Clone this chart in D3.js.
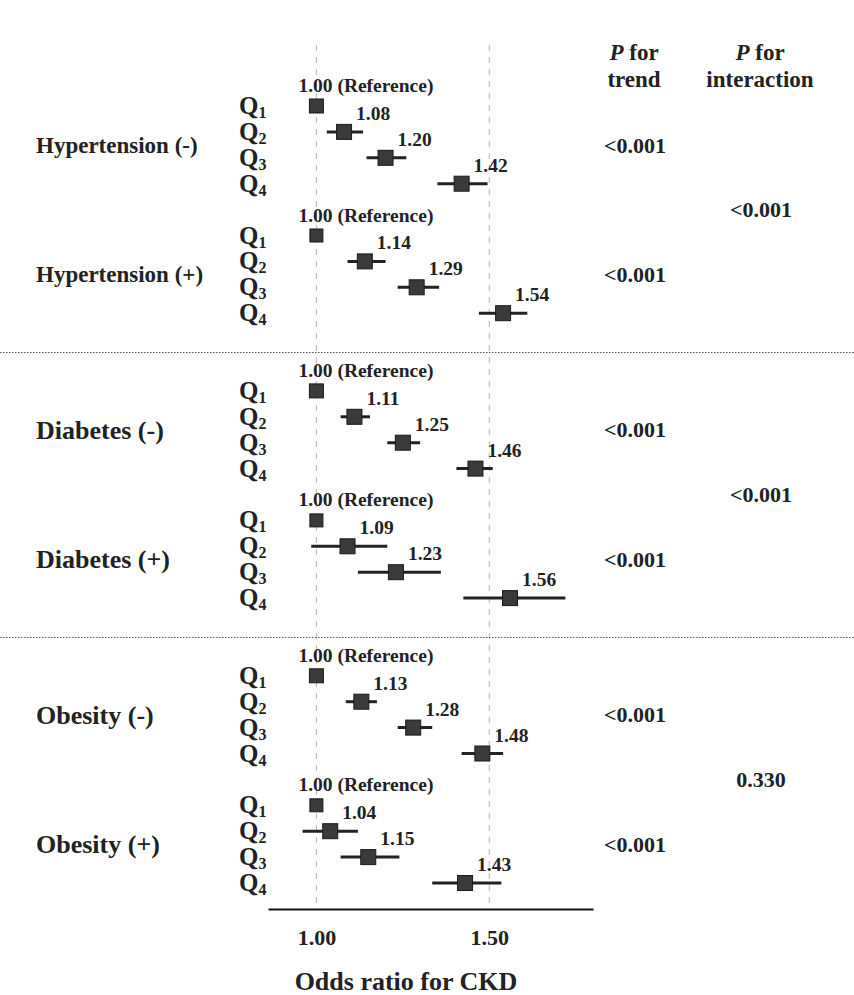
<!DOCTYPE html>
<html>
<head>
<meta charset="utf-8">
<script src="https://cdn.jsdelivr.net/npm/d3@7/dist/d3.min.js"></script>
<style>
  html, body { margin: 0; padding: 0; background: #fff; }
  svg text { font-family: "Liberation Serif", "Times New Roman", serif; font-weight: bold; fill: #222; }
</style>
</head>
<body>
<svg id="chart" width="854" height="995"></svg>
<script>
// ---------- data ----------
const groups = ["Hypertension (-)", "Hypertension (+)", "Diabetes (-)", "Diabetes (+)", "Obesity (-)", "Obesity (+)"];
const quartiles = ["1", "2", "3", "4"];
const orHypNeg = [1.00, 1.08, 1.20, 1.42];
const loHypNeg = [1.00, 1.03, 1.145, 1.35];
const hiHypNeg = [1.00, 1.135, 1.26, 1.495];
const orHypPos = [1.00, 1.14, 1.29, 1.54];
const loHypPos = [1.00, 1.09, 1.235, 1.47];
const hiHypPos = [1.00, 1.20, 1.355, 1.61];
const orDiaNeg = [1.00, 1.11, 1.25, 1.46];
const loDiaNeg = [1.00, 1.07, 1.205, 1.405];
const hiDiaNeg = [1.00, 1.155, 1.30, 1.51];
const orDiaPos = [1.00, 1.09, 1.23, 1.56];
const loDiaPos = [1.00, 0.985, 1.12, 1.425];
const hiDiaPos = [1.00, 1.205, 1.36, 1.72];
const orObeNeg = [1.00, 1.13, 1.28, 1.48];
const loObeNeg = [1.00, 1.085, 1.235, 1.42];
const hiObeNeg = [1.00, 1.175, 1.335, 1.54];
const orObePos = [1.00, 1.04, 1.15, 1.43];
const loObePos = [1.00, 0.96, 1.07, 1.335];
const hiObePos = [1.00, 1.12, 1.24, 1.535];
const pTrend = ["<0.001", "<0.001", "<0.001", "<0.001", "<0.001", "<0.001"];
const pInteraction = ["<0.001", "<0.001", "0.330"];
const xTicks = [1.00, 1.50];
const refLabel = "1.00 (Reference)";
const axisTitle = "Odds ratio for CKD";

// ---------- build table ----------
const orAll = [orHypNeg, orHypPos, orDiaNeg, orDiaPos, orObeNeg, orObePos];
const loAll = [loHypNeg, loHypPos, loDiaNeg, loDiaPos, loObeNeg, loObePos];
const hiAll = [hiHypNeg, hiHypPos, hiDiaNeg, hiDiaPos, hiObeNeg, hiObePos];
const rows = [];
groups.forEach((g, gi) => {
  const sec = Math.floor(gi / 2), sub = gi % 2;
  quartiles.forEach((q, qi) => {
    rows.push({ group: g, gi, q, qi, slot: sec * 11 + sub * 5 + qi,
      or: orAll[gi][qi], lo: loAll[gi][qi], hi: hiAll[gi][qi] });
  });
});

// ---------- scales ----------
const svg = d3.select("#chart");
const x = d3.scaleLinear().domain([0.86, 1.8]).range([268, 593]);
const y = d3.scaleLinear().domain([0, 30]).range([106, 883]);
const groupMid = gi => { const s = Math.floor(gi / 2), sub = gi % 2; return (y(s * 11 + sub * 5) + y(s * 11 + sub * 5 + 3)) / 2; };
const sectionMid = s => (y(s * 11) + y(s * 11 + 8)) / 2;

// dashed reference lines
svg.append("g").selectAll("line").data(xTicks).join("line")
  .attr("x1", d => x(d)).attr("x2", d => x(d))
  .attr("y1", 45).attr("y2", 905)
  .attr("stroke", "#b5b5b5").attr("stroke-width", 1).attr("stroke-dasharray", "6,6");

// dotted section separators
svg.append("g").selectAll("line").data([0, 1]).join("line")
  .attr("x1", 0).attr("x2", 854)
  .attr("y1", s => Math.round((y(s * 11 + 8) + y((s + 1) * 11)) / 2) + 0.5)
  .attr("y2", s => Math.round((y(s * 11 + 8) + y((s + 1) * 11)) / 2) + 0.5)
  .attr("stroke", "#555").attr("stroke-width", 1).attr("stroke-dasharray", "1.5,1.5");

// axis
const axis = d3.axisBottom(x).tickValues(xTicks).tickSize(0).tickPadding(0).tickFormat(d3.format(".2f"));
const ax = svg.append("g").attr("transform", "translate(0,909)").call(axis);
ax.select(".domain").attr("stroke", "#111").attr("stroke-width", 2);
ax.selectAll(".tick text").attr("dy", 0).attr("y", 36)
  .style("font-size", "22px").style("font-family", "'Liberation Serif', serif").style("font-weight", "bold").attr("fill", "#222");
svg.append("text").attr("x", 406).attr("y", 990).attr("text-anchor", "middle")
  .style("font-size", "26px").text(axisTitle);

// CI lines
svg.append("g").selectAll("line").data(rows.filter(d => d.hi > d.lo)).join("line")
  .attr("x1", d => x(d.lo)).attr("x2", d => x(d.hi))
  .attr("y1", d => y(d.slot)).attr("y2", d => y(d.slot))
  .attr("stroke", "#222").attr("stroke-width", 3);

// squares
svg.append("g").selectAll("rect").data(rows).join("rect")
  .each(function (d) {
    const s = d.qi === 0 ? (d.gi % 2 === 1 ? 13 : 14) : 15;
    d3.select(this).attr("x", x(d.or) - s / 2).attr("y", y(d.slot) - s / 2)
      .attr("width", s).attr("height", s);
  })
  .attr("fill", "#3a3a3a").attr("stroke", "#1a1a1a").attr("stroke-width", 1);

// value labels
svg.append("g").selectAll("text").data(rows).join("text")
  .attr("x", d => d.qi === 0 ? x(d.or) - 18 : x(d.or) + 12)
  .attr("y", d => d.qi === 0 ? y(d.slot) - 14 : y(d.slot) - 12)
  .style("font-size", "19.5px")
  .text(d => d.qi === 0 ? refLabel : d3.format(".2f")(d.or));

// Q labels
const ql = svg.append("g").selectAll("text").data(rows).join("text")
  .attr("x", 239).attr("y", d => y(d.slot) + 8)
  .style("font-size", "25px");
ql.append("tspan").text("Q");
ql.append("tspan").attr("dy", 4).style("font-size", "16px").text(d => d.q);

// group labels
svg.append("g").selectAll("text").data(groups).join("text")
  .attr("x", 36).attr("y", (d, i) => groupMid(i)).attr("dy", "0.35em")
  .style("font-size", (d, i) => i < 2 ? "23px" : "26px")
  .text(d => d);

// headers
const hdr = [{ cx: 634, l2: "trend" }, { cx: 760, l2: "interaction" }];
hdr.forEach(h => {
  const t = svg.append("text").attr("x", h.cx).attr("y", 60).attr("text-anchor", "middle").style("font-size", "23px");
  t.append("tspan").style("font-style", "italic").text("P");
  t.append("tspan").text(" for");
  svg.append("text").attr("x", h.cx).attr("y", 87).attr("text-anchor", "middle").style("font-size", "23px").text(h.l2);
});

// P for trend
svg.append("g").selectAll("text").data(pTrend).join("text")
  .attr("x", 635).attr("y", (d, i) => groupMid(i)).attr("dy", "0.35em")
  .attr("text-anchor", "middle").style("font-size", "22px").text(d => d);

// P for interaction
svg.append("g").selectAll("text").data(pInteraction).join("text")
  .attr("x", 761).attr("y", (d, i) => sectionMid(i)).attr("dy", "0.35em")
  .attr("text-anchor", "middle").style("font-size", "22px").text(d => d);
</script>
</body>
</html>
